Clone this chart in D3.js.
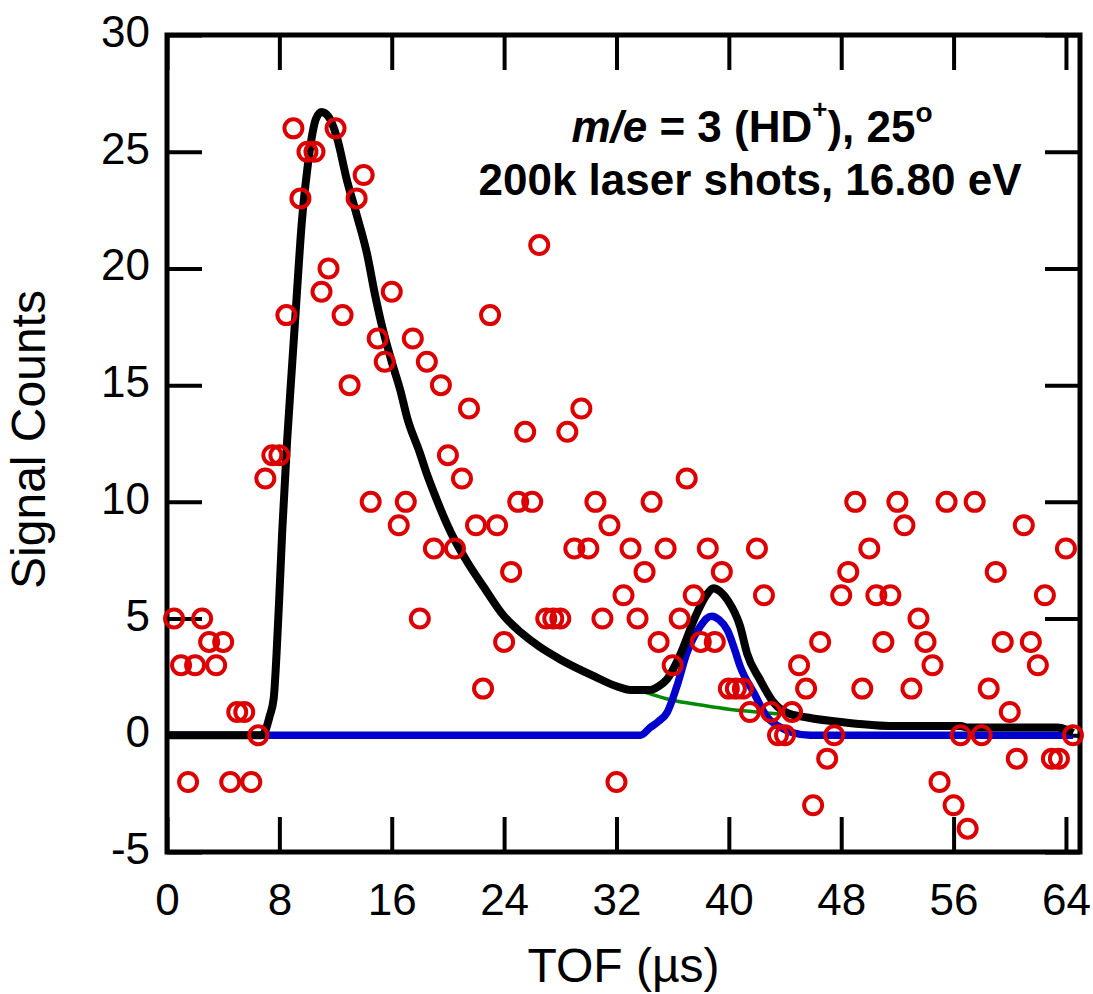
<!DOCTYPE html>
<html>
<head>
<meta charset="utf-8">
<script src="https://cdn.jsdelivr.net/npm/d3@7"></script>
<style>
  html, body { margin: 0; padding: 0; background: #ffffff; }
  svg { display: block; }
  text { font-family: "Liberation Sans", Arial, Helvetica, sans-serif; fill: #000; }
</style>
</head>
<body>
<svg id="chart" width="1093" height="994"></svg>
<script>
// ---- data ----
const tof = [0.5,1,1.5,2,2.5,3,3.5,4,4.5,5,5.5,6,6.5,7,7.5,8,8.5,9,9.5,10,
  10.5,11,11.5,12,12.5,13,13.5,14,14.5,15,15.5,16,16.5,17,17.5,18,18.5,19,19.5,20,
  20.5,21,21.5,22,22.5,23,23.5,24,24.5,25,25.5,26,26.5,27,27.5,28,28.5,29,29.5,30,
  30.5,31,31.5,32,32.5,33,33.5,34,34.5,35,35.5,36,36.5,37,37.5,38,38.5,39,39.5,40,
  40.5,41,41.5,42,42.5,43,43.5,44,44.5,45,45.5,46,46.5,47,47.5,48,48.5,49,49.5,50,
  50.5,51,51.5,52,52.5,53,53.5,54,54.5,55,55.5,56,56.5,57,57.5,58,58.5,59,59.5,60,
  60.5,61,61.5,62,62.5,63,63.5,64,64.5];
const counts = [5,3,-2,3,5,4,3,4,-2,1,
  1,-2,0,11,12,12,18,26,23,25,
  25,19,20,26,18,15,23,24,10,17,
  16,19,9,10,17,5,16,8,15,12,
  8,11,14,9,2,18,9,4,7,10,
  13,10,21,5,5,5,13,8,14,8,
  10,5,9,-2,6,8,5,7,10,4,
  8,3,5,11,6,4,8,4,7,2,
  2,2,1,8,6,1,0,0,1,3,
  2,-3,4,-1,0,6,7,10,2,8,
  6,4,6,10,9,2,5,4,3,-2,
  10,-3,0,-4,10,0,2,7,4,1,
  -1,9,4,3,6,-1,-1,8,0];

// total fit (black)
const fitT = [0,6.7,7.0,7.3,7.6,7.8,8.0,8.2,8.55,8.9,9.2,9.6,10.0,10.3,10.6,11.0,11.5,12.1,12.8,13.5,14.25,14.8,15.2,16.0,16.6,17.1,18.0,18.5,19.0,20.2,21.4,22.5,24.0,25.2,26.5,28.0,30.4,32.0,33.0,34.4,35.0,35.6,36.5,37.7,38.4,38.9,39.4,39.9,40.8,41.3,42.2,43.2,44.1,45.6,48.4,51.7,56.5,57.0,63.4,64.0,64.5];
const fitV = [0,0,0.2,0.8,1.6,3.5,6.0,8.7,12.6,15.8,18.5,22.0,24.3,25.6,26.4,26.7,26.5,25.6,23.8,22.3,20.6,18.9,17.8,16.0,14.8,13.6,12.1,11.2,10.4,8.7,7.4,6.4,5.1,4.4,3.8,3.25,2.53,2.1,1.94,1.94,2.1,2.4,3.4,5.2,6.0,6.3,6.15,5.8,4.67,3.5,2.4,1.4,0.97,0.76,0.54,0.4,0.4,0.33,0.33,0.25,0.1];

// second peak component (blue)
const peakT = [0,33.7,34.4,35.0,35.6,36.3,37.0,37.97,38.4,38.8,39.3,39.9,40.4,40.8,41.8,42.7,43.7,44.5,45.8,64.5];
const peakV = [0,0,0.33,0.6,0.97,2.1,3.5,4.67,5.0,5.1,4.95,4.5,3.7,2.96,1.8,0.8,0.33,0.12,0,0];

// background tail (green)
const tailT = [34.0,36.0,38.0,40.0,42.0,43.8];
const tailV = [1.85,1.5,1.3,1.12,1.0,0.9];

const xTicks = [0,8,16,24,32,40,48,56,64];
const yTicks = [-5,0,5,10,15,20,25,30];

// ---- layout ----
const svg = d3.select("#chart");
const L = 167, T = 35, R = 1080, B = 852;
const x = d3.scaleLinear().domain([0, 65]).range([L, R]);
const y = d3.scaleLinear().domain([-5, 30]).range([B, T]);

svg.append("rect").attr("width", 1093).attr("height", 994).attr("fill", "#fff");

const FS = 44;
const plain = d => String(d);

// axes (inward ticks on all four sides)
const gB = svg.append("g").attr("transform", `translate(0,${B})`)
  .call(d3.axisBottom(x).tickValues(xTicks).tickSize(-35).tickPadding(32).tickFormat(plain));
const gT = svg.append("g").attr("transform", `translate(0,${T})`)
  .call(d3.axisTop(x).tickValues(xTicks).tickSize(-35).tickFormat(""));
const gL = svg.append("g").attr("transform", `translate(${L},0)`)
  .call(d3.axisLeft(y).tickValues(yTicks).tickSize(-35).tickPadding(17).tickFormat(plain));
const gR = svg.append("g").attr("transform", `translate(${R},0)`)
  .call(d3.axisRight(y).tickValues(yTicks).tickSize(-35).tickFormat(""));

[gB, gT, gL, gR].forEach(g => {
  g.select(".domain").remove();
  g.selectAll(".tick line").attr("stroke", "#000").attr("stroke-width", 4);
  g.selectAll(".tick text").style("font-size", FS + "px")
    .style("font-family", '"Liberation Sans", Arial, sans-serif').attr("fill", "#000");
});
gL.selectAll(".tick text").attr("dy", "0.26em");

// frame
svg.append("rect").attr("x", L).attr("y", T).attr("width", R - L).attr("height", B - T)
  .attr("fill", "none").attr("stroke", "#000").attr("stroke-width", 5);

// lines
const line = d3.line().x(d => x(d[0])).y(d => y(d[1])).curve(d3.curveMonotoneX);
const zip = (a, b) => a.map((v, i) => [v, b[i]]);

svg.append("path").datum(zip(tailT, tailV)).attr("d", line)
  .attr("fill", "none").attr("stroke", "#008a00").attr("stroke-width", 3.5);
svg.append("path").datum(zip(peakT, peakV)).attr("d", line)
  .attr("fill", "none").attr("stroke", "#0000cc").attr("stroke-width", 7.5).attr("stroke-linejoin", "round");
svg.append("path").datum(zip(fitT, fitV)).attr("d", line)
  .attr("fill", "none").attr("stroke", "#000").attr("stroke-width", 8).attr("stroke-linejoin", "round");

// data points
svg.append("g").selectAll("circle").data(zip(tof, counts)).join("circle")
  .attr("cx", d => x(d[0])).attr("cy", d => y(d[1])).attr("r", 9)
  .attr("fill", "none").attr("stroke", "#dd0000").attr("stroke-width", 4);

// axis titles
svg.append("text").attr("x", (L + R) / 2).attr("y", 982).attr("text-anchor", "middle")
  .style("font-size", "48px").text("TOF (\u00b5s)");
svg.append("text").attr("transform", `translate(45,${(T + B) / 2 - 4}) rotate(-90)`)
  .attr("text-anchor", "middle").style("font-size", "48px").text("Signal Counts");

// annotation
const a1 = svg.append("text").attr("x", 752).attr("y", 142).attr("text-anchor", "middle")
  .style("font-size", FS + "px").style("font-weight", "bold");
a1.append("tspan").style("font-style", "italic").text("m/e");
a1.append("tspan").text(" = 3 (HD");
a1.append("tspan").attr("dy", -24).style("font-size", "26px").text("+");
a1.append("tspan").attr("dy", 24).text("), 25");
a1.append("tspan").attr("dy", -20).style("font-size", "28px").text("o");

svg.append("text").attr("x", 750).attr("y", 195).attr("text-anchor", "middle")
  .style("font-size", FS + "px").style("font-weight", "bold")
  .text("200k laser shots, 16.80 eV");
</script>
</body>
</html>
